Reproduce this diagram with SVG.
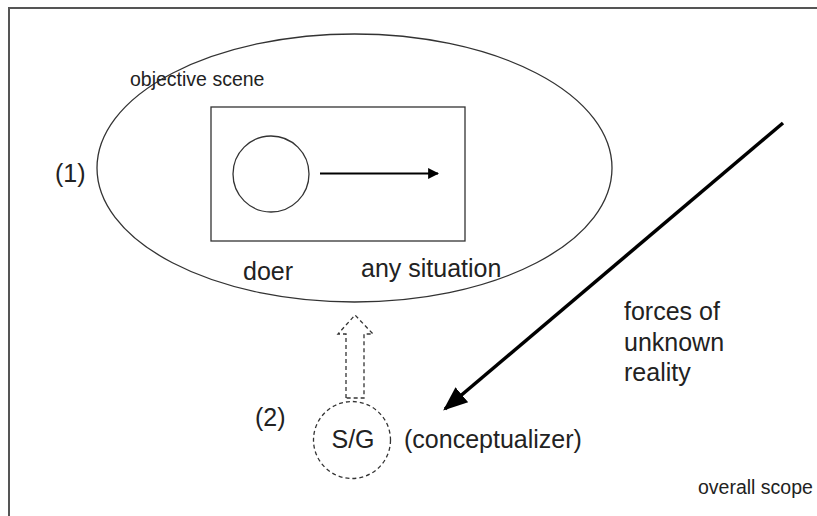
<svg xmlns="http://www.w3.org/2000/svg" width="817" height="516" viewBox="0 0 817 516">
<defs>
<style>
.t{font-family:"Liberation Sans",Arial,sans-serif;fill:#222}
.big{font-size:25px}
.sm{font-size:19.5px}
.ln{fill:none;stroke:#333;stroke-width:1.3}
.dash{fill:none;stroke:#333;stroke-width:1.3;stroke-dasharray:4 3}
</style>
<marker id="ah" viewBox="0 0 10 10" refX="9" refY="5" markerWidth="5" markerHeight="5" orient="auto" markerUnits="strokeWidth"><path d="M0,0 L10,5 L0,10 z" fill="#000"/></marker>
<marker id="ahb" viewBox="0 0 10 10" refX="9" refY="5" markerWidth="7" markerHeight="7" orient="auto" markerUnits="strokeWidth"><path d="M0,1 L10,5 L0,9 z" fill="#000"/></marker>
</defs>
<rect width="817" height="516" fill="#fff"/>
<path d="M9,516 V8 H817" fill="none" stroke="#555" stroke-width="2"/>
<g id="scene">
<ellipse class="ln" cx="354.5" cy="168" rx="257.5" ry="134"/>
<text class="t sm" x="130" y="86">objective scene</text>
</g>
<g id="situation">
<rect class="ln" x="211" y="107" width="254" height="134"/>
</g>
<g id="doer">
<circle class="ln" cx="271" cy="174" r="38"/>
<text class="t big" x="243" y="280">doer</text>
</g>
<g id="any-situation">
<text class="t big" x="361" y="277">any situation</text>
</g>
<g id="label1"><text class="t big" x="55" y="182">(1)</text></g>
<g id="label2"><text class="t big" x="255" y="426">(2)</text></g>
<g id="sg">
<circle class="dash" cx="352" cy="440" r="38.5"/>
<text class="t big" x="353" y="448" text-anchor="middle">S/G</text>
<text class="t big" x="404" y="448">(conceptualizer)</text>
</g>
<g id="forces">
<text class="t big" x="624" y="320">forces of</text>
<text class="t big" x="624" y="351">unknown</text>
<text class="t big" x="624" y="381">reality</text>
</g>
<g id="scope"><text class="t sm" x="698" y="494">overall scope</text></g>
<g id="connectors">
<line x1="320" y1="173.5" x2="438" y2="173.5" stroke="#000" stroke-width="2.2" marker-end="url(#ah)"/>
<line x1="783" y1="123" x2="445" y2="409" stroke="#000" stroke-width="3.5" marker-end="url(#ahb)"/>
<path class="dash" d="M346,398 V334 H338 L355,315 L373,334 H364 V398 Z"/>
</g>
</svg>
